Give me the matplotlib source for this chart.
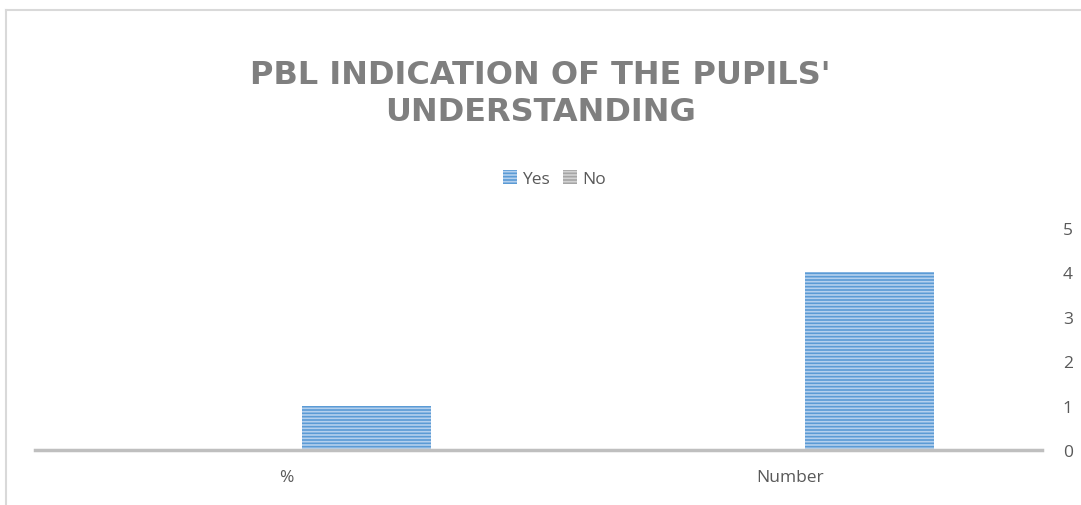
import numpy as np
import matplotlib
matplotlib.use("Agg")
import matplotlib.pyplot as plt
from matplotlib.lines import Line2D

categories = ["%", "Number"]
yes_values = [1, 4]
no_values = [0, 0]
y_ticks = [0, 1, 2, 3, 4, 5]

plt.rcParams["font.family"] = ["Open Sans", "DejaVu Sans"]
plt.rcParams["hatch.linewidth"] = 1.2

fig = plt.figure(figsize=(10.81, 5.06), dpi=100)
ax = fig.add_axes([0.0324, 0.1087, 0.9315, 0.4387])

x = np.arange(len(categories))
offset = 0.158
width = 0.257

ax.bar(x + offset, yes_values, width, color="#5B9BD5", edgecolor="#B4D0EE",
       hatch="-----", linewidth=0, label="Yes")
ax.bar(x - offset, no_values, width, color="#A5A5A5", edgecolor="#D2D2D2",
       hatch="-----", linewidth=0, label="No")

ax.set_xlim(-0.5, 1.5)
ax.set_ylim(0, 5)
ax.set_xticks(x)
ax.set_xticklabels(categories)
ax.set_yticks(y_ticks)
ax.yaxis.tick_right()
ax.tick_params(axis="both", length=0, labelsize=12.5, colors="#595959")
ax.tick_params(axis="y", pad=15)
ax.tick_params(axis="x", pad=14)

for side in ["top", "right", "left"]:
    ax.spines[side].set_visible(False)
ax.spines["bottom"].set_color("#BFBFBF")
ax.spines["bottom"].set_linewidth(2.5)

fig.text(0.5, 0.815, "PBL INDICATION OF THE PUPILS'\nUNDERSTANDING",
         ha="center", va="center", fontsize=23, fontweight="bold",
         color="#7F7F7F", linespacing=1.25, family=["DejaVu Sans"])

fig.legend(loc="center", bbox_to_anchor=(0.513, 0.645), ncol=2, frameon=False,
           fontsize=12.5, labelcolor="#595959", handlelength=0.8,
           handleheight=0.8, handletextpad=0.3, columnspacing=0.8)

# chart area border (only top and left visible in the crop)
fig.add_artist(Line2D([0.0055, 1.0], [0.978, 0.978], color="#D9D9D9", lw=1.5))
fig.add_artist(Line2D([0.0055, 0.0055], [0.0, 0.978], color="#D9D9D9", lw=1.5))

fig.savefig("out.png", dpi=100)
